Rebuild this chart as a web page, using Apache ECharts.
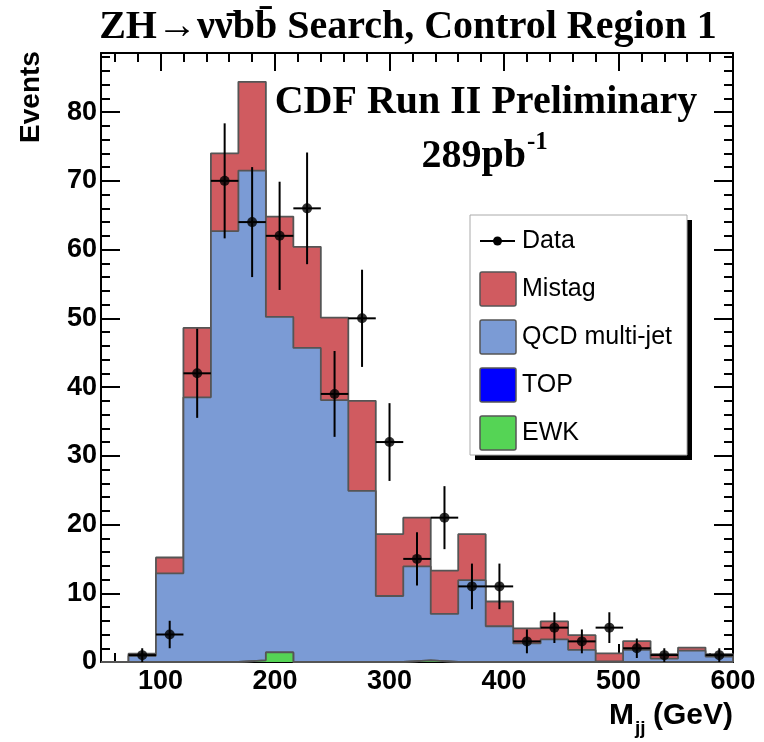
<!DOCTYPE html>
<html>
<head>
<meta charset="utf-8">
<script src="https://cdn.jsdelivr.net/npm/echarts@6/dist/echarts.min.js"></script>
<style>
html,body{margin:0;padding:0;background:#fff;}
#chart{width:764px;height:742px;}
</style>
</head>
<body>
<div id="chart"></div>
<script>
// ---- data ----
const binEdges = [48,72,96,120,144,168,192,216,240,264,288,312,336,360,384,408,432,456,480,504,528,552,576,600];
const dataCounts = [null,1,4,42,70,64,62,66,39,50,32,15,21,11,11,3,5,3,5,2,1,null,1];
const mistag = [0,0.3,2.3,10.1,11.3,12.9,14.6,14.7,12.0,13.1,9.0,7.1,6.3,6.7,3.6,2.2,2.6,2.15,1.15,1.3,0.66,0.45,0.36];
const qcd    = [0,0.9,12.9,38.5,62.7,71.25,48.8,45.7,38.1,24.9,9.6,13.65,7.0,11.9,5.2,2.7,3.3,1.75,0.1,1.75,0.5,1.65,0.8];
const topBg  = [0,0,0,0,0,0,0,0,0,0,0,0,0,0,0,0,0,0,0,0,0,0,0];
const ewk    = [0,0,0,0,0,0.25,1.4,0,0,0,0,0.25,0,0,0,0,0,0,0,0,0,0,0];
const xMajorTicks = [100,200,300,400,500,600];
const yMajorTicks = [0,10,20,30,40,50,60,70,80];
const xRange = [48, 600];
const yRange = [0, 88.6];

const colMistag = '#d05b60', colQCD = '#7b9bd5', colTop = '#0000ff', colEWK = '#55d455';

const xMinorTicks = []; for (let v = 60; v <= 600; v += 20) if (v > xRange[0]) xMinorTicks.push(v);
const yMinorTicks = []; for (let v = 0; v <= 88; v += 2) yMinorTicks.push(v);

// cumulative stacks (drawn ROOT-style: largest first)
const cumEWK = ewk.slice();
const cumTop = cumEWK.map((v,i)=>v+topBg[i]);
const cumQCD = cumTop.map((v,i)=>v+qcd[i]);
const cumAll = cumQCD.map((v,i)=>v+mistag[i]);

function stepData(vals){
  const pts = [[binEdges[0],0]];
  for (let i=0;i<vals.length;i++) pts.push([binEdges[i], vals[i]]);
  pts.push([binEdges[vals.length], vals[vals.length-1]]);
  pts.push([binEdges[vals.length], 0]);
  return pts;
}
function stepSeries(name, vals, color, z){
  return {name, type:'line', step:'end', data:stepData(vals), showSymbol:false, symbol:'none',
    lineStyle:{color:'#555', width:1.8}, areaStyle:{color, opacity:1}, z, silent:true};
}
const pointData = [], errData = [];
dataCounts.forEach((c,i)=>{
  if (c === null) return;
  pointData.push([(binEdges[i]+binEdges[i+1])/2, c]);
  errData.push([binEdges[i], binEdges[i+1], c]);
});

const axisFont = {fontFamily:'Liberation Sans', fontWeight:'bold', fontSize:27, color:'#000'};
function xAx(pos, major, labels){
  return {type:'value', position:pos, min:xRange[0], max:xRange[1],
    axisLine:{show:major, onZero:false, lineStyle:{color:'#000', width:2}},
    axisTick:{show:true, inside:true, length: major?18:9, customValues: major?xMajorTicks:xMinorTicks, lineStyle:{color:'#000', width:2}},
    axisLabel: labels ? Object.assign({show:true, margin:6, customValues:xMajorTicks}, axisFont) : {show:false},
    splitLine:{show:false}};
}
function yAx(pos, major, labels){
  return {type:'value', position:pos, min:yRange[0], max:yRange[1],
    axisLine:{show:major, onZero:false, lineStyle:{color:'#000', width:2}},
    axisTick:{show:true, inside:true, length: major?19:9, customValues: major?yMajorTicks:yMinorTicks, lineStyle:{color:'#000', width:2}},
    axisLabel: labels ? Object.assign({show:true, margin:4, customValues:yMajorTicks}, axisFont) : {show:false},
    splitLine:{show:false}};
}

const legendItems = [
  {name:'Mistag', color:colMistag},
  {name:'QCD multi-jet', color:colQCD},
  {name:'TOP', color:colTop},
  {name:'EWK', color:colEWK}
];
const LX = 470, LY = 215, LW = 217, LH = 240;
const legendEls = [
  {type:'rect', shape:{x:LX+5, y:LY+5, width:LW, height:LH}, style:{fill:'#000'}},
  {type:'rect', shape:{x:LX, y:LY, width:LW, height:LH}, style:{fill:'#fff', stroke:'#aaa', lineWidth:1}},
  {type:'line', shape:{x1:480, y1:241, x2:515, y2:241}, style:{stroke:'#000', lineWidth:2}},
  {type:'circle', shape:{cx:497.5, cy:241, r:4.5}, style:{fill:'#000'}},
  {type:'text', x:522, y:241, style:{text:'Data', fontFamily:'Liberation Sans', fontSize:25, fill:'#000', verticalAlign:'middle'}}
];
legendItems.forEach((it,i)=>{
  const cy = 289 + 48*i;
  legendEls.push({type:'rect', shape:{x:480, y:cy-17, width:36, height:34, r:2}, style:{fill:it.color, stroke:'#555', lineWidth:1.5}});
  legendEls.push({type:'text', x:522, y:cy, style:{text:it.name, fontFamily:'Liberation Sans', fontSize:25, fill:'#000', verticalAlign:'middle'}});
});

const chart = echarts.init(document.getElementById('chart'), null, {renderer:'canvas'});
chart.setOption({
  animation:false,
  backgroundColor:'#fff',
  grid:{left:101, right:31, top:53, bottom:80, containLabel:false},
  xAxis:[xAx('bottom',true,true), xAx('bottom',false,false), xAx('top',true,false), xAx('top',false,false)],
  yAxis:[yAx('left',true,true), yAx('left',false,false), yAx('right',true,false), yAx('right',false,false)],
  series:[
    stepSeries('Mistag', cumAll, colMistag, 2),
    stepSeries('QCD multi-jet', cumQCD, colQCD, 3),
    stepSeries('TOP', cumTop, colTop, 4),
    stepSeries('EWK', cumEWK, colEWK, 5),
    {name:'Data', type:'custom', data:errData, encode:{x:[0,1], y:2}, z:6, silent:true,
      renderItem:function(params, api){
        const lo=api.value(0), hi=api.value(1), c=api.value(2);
        const e=Math.sqrt(c), mid=(lo+hi)/2;
        const pL=api.coord([lo,c]), pR=api.coord([hi,c]);
        const pB=api.coord([mid,Math.max(0,c-e)]), pT=api.coord([mid,c+e]);
        return {type:'group', children:[
          {type:'line', shape:{x1:pL[0],y1:pL[1],x2:pR[0],y2:pR[1]}, style:{stroke:'#000', lineWidth:2}},
          {type:'line', shape:{x1:pB[0],y1:pB[1],x2:pT[0],y2:pT[1]}, style:{stroke:'#000', lineWidth:2}}
        ]};
      }},
    {name:'Data', type:'scatter', data:pointData, symbol:'circle', symbolSize:10, itemStyle:{color:'#000'}, z:7, silent:true}
  ],
  graphic:[
    {type:'text', x:408, y:28, style:{text:'ZH\u2192\u03BD\u03BD\u0304bb\u0304 Search, Control Region 1', fontFamily:'Liberation Serif', fontWeight:'bold', fontSize:40, fill:'#000', align:'center', verticalAlign:'middle'}},
    {type:'text', x:486, y:103, style:{text:'CDF Run II Preliminary', fontFamily:'Liberation Serif', fontWeight:'bold', fontSize:40, fill:'#000', align:'center', verticalAlign:'middle'}},
    {type:'text', x:526, y:157, style:{text:'289pb', fontFamily:'Liberation Serif', fontWeight:'bold', fontSize:40, fill:'#000', align:'right', verticalAlign:'middle'}},
    {type:'text', x:527, y:143, style:{text:'-1', fontFamily:'Liberation Serif', fontWeight:'bold', fontSize:25, fill:'#000', align:'left', verticalAlign:'middle'}},
    {type:'text', x:31, y:97, rotation:Math.PI/2, style:{text:'Events', fontFamily:'Liberation Sans', fontWeight:'bold', fontSize:28, fill:'#000', align:'center', verticalAlign:'middle'}},
    {type:'text', x:733, y:716, style:{text:'(GeV)', fontFamily:'Liberation Sans', fontWeight:'bold', fontSize:30, fill:'#000', align:'right', verticalAlign:'middle'}},
    {type:'text', x:634, y:716, style:{text:'M', fontFamily:'Liberation Sans', fontWeight:'bold', fontSize:30, fill:'#000', align:'right', verticalAlign:'middle'}},
    {type:'text', x:635, y:729, style:{text:'jj', fontFamily:'Liberation Sans', fontWeight:'bold', fontSize:19, fill:'#000', align:'left', verticalAlign:'middle'}},
    {type:'group', children:legendEls}
  ]
});
</script>
</body>
</html>
